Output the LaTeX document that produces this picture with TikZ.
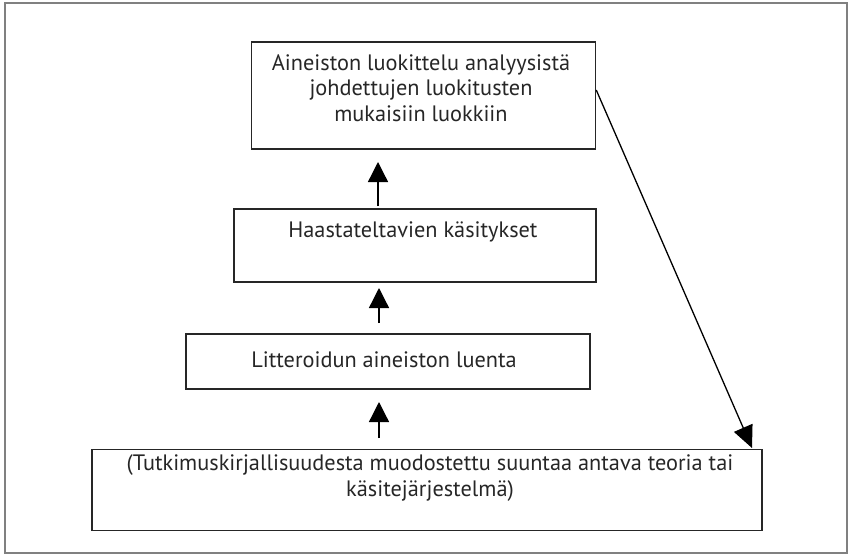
\documentclass[tikz,border=0pt]{standalone}
\usepackage{fontspec}
\setmainfont{PT Sans}
\usetikzlibrary{arrows.meta}
\begin{document}
\begin{tikzpicture}[x=1pt,y=-1pt,
  stagebox/.style={draw=black!85,line width=1.5pt,rectangle,inner sep=0pt},
  stagetext/.style={font=\fontsize{22.3}{25.5}\selectfont,text=black!85,align=center,inner sep=0pt},
  uparrow/.style={line width=1.3pt,-{Triangle[length=20pt,width=20pt]}},
  slantarrow/.style={line width=1.3pt,-{Triangle[length=22pt,width=20pt]}}]
  % page frame
  \useasboundingbox (0,0) rectangle (849,555);
  \draw[black!50,line width=1.5pt] (5,3) rectangle (847,553);

  % stage boxes
  \node[stagebox,minimum width=344pt,minimum height=107pt] (b1) at (423.5,95.5) {};
  \node[stagebox,minimum width=362pt,minimum height=73pt] (b2) at (415,245.5) {};
  \node[stagebox,minimum width=404pt,minimum height=55pt] (b3) at (388,361.5) {};
  \node[stagebox,minimum width=670pt,minimum height=81pt] (b4) at (427,490) {};

  % box texts
  \node[stagetext] (t1) at (421,88) {Aineiston luokittelu analyysistä\\johdettujen luokitusten\\mukaisiin luokkiin};
  \node[stagetext] (t2) at (413,232) {Haastateltavien käsitykset};
  \node[stagetext] (t3) at (384,360) {Litteroidun aineiston luenta};
  \node[stagetext] (t4) at (430,478) {(Tutkimuskirjallisuudesta muodostettu suuntaa antava teoria tai\\käsitejärjestelmä)};

  % upward arrows between stages
  \coordinate (a1s) at (378,206);
  \coordinate (a1e) at (378,162);
  \coordinate (a2s) at (379,323);
  \coordinate (a2e) at (379,288);
  \coordinate (a3s) at (379,438);
  \coordinate (a3e) at (379,402);
  \draw[uparrow] (a1s) -- (a1e);
  \draw[uparrow] (a2s) -- (a2e);
  \draw[uparrow] (a3s) -- (a3e);

  % slanted arrow from the top box down to the base box
  \coordinate (ds) at (b1.east |- 0,90);
  \coordinate (de) at (752,448);
  \draw[slantarrow] (ds) -- (de);
\end{tikzpicture}
\end{document}
